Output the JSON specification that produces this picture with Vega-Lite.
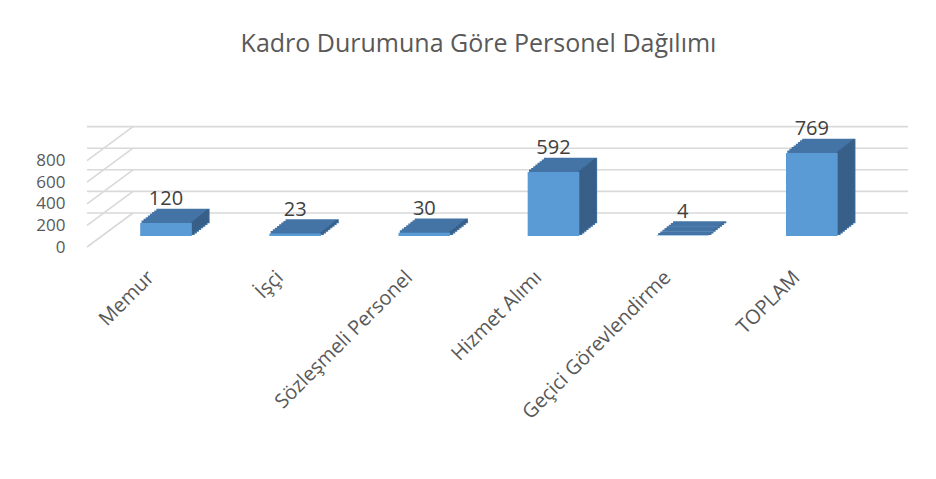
{
  "$schema": "https://vega.github.io/schema/vega-lite/v6.json",
  "width": 775,
  "height": 86.4,
  "autosize": {"type": "none"},
  "padding": {"left": 87, "top": 149.6, "right": 74, "bottom": 243},
  "background": "white",
  "title": {
    "text": "Kadro Durumuna Göre Personel Dağılımı",
    "font": "Open Sans",
    "fontSize": 25,
    "fontWeight": "normal",
    "color": "#595959",
    "anchor": "middle",
    "offset": 62,
    "dx": 4
  },
  "datasets": {
    "bars": [
      {"k": "Memur", "v": 120},
      {"k": "İşçi", "v": 23},
      {"k": "Sözleşmeli Personel", "v": 30},
      {"k": "Hizmet Alımı", "v": 592},
      {"k": "Geçici Görevlendirme", "v": 4},
      {"k": "TOPLAM", "v": 769}
    ],
    "grid": [{"g": 0}, {"g": 200}, {"g": 400}, {"g": 600}, {"g": 800}]
  },
  "config": {
    "view": {"stroke": null},
    "font": "Open Sans",
    "axisY": {
      "title": null,
      "domain": false,
      "ticks": false,
      "tickSize": 0,
      "grid": false,
      "values": [0, 200, 400, 600, 800],
      "labelPadding": 22,
      "labelOffset": 11,
      "labelFontSize": 17,
      "labelColor": "#595959",
      "labelFont": "Open Sans"
    }
  },
  "layer": [
    {
      "data": {"name": "grid"},
      "mark": {"type": "rule", "color": "#d9d9d9", "strokeWidth": 1.6, "xOffset": 46, "yOffset": -23},
      "encoding": {
        "y": {"field": "g", "type": "quantitative", "title": null}
      }
    },
    {
      "data": {"name": "grid"},
      "mark": {"type": "rule", "color": "#d9d9d9", "strokeWidth": 1.6, "yOffset": 11, "y2Offset": -23, "x2Offset": 46},
      "encoding": {
        "x": {"value": 0},
        "x2": {"value": 0},
        "y": {"field": "g", "type": "quantitative", "title": null},
        "y2": {"field": "g"}
      }
    },
    {
      "data": {"name": "bars"},
      "encoding": {
        "x": {
          "field": "k",
          "type": "nominal",
          "sort": null,
          "scale": {"paddingInner": 0.6, "paddingOuter": 0.3, "align": 0.686},
          "axis": {
            "title": null,
            "domain": false,
            "ticks": false,
            "tickSize": 0,
            "labelAngle": -45,
            "labelAlign": "right",
            "labelBaseline": "middle",
            "labelPadding": 38,
            "labelOffset": -15,
            "labelLimit": 0,
            "labelFontSize": 20,
            "labelColor": "#595959",
            "labelFont": "Open Sans"
          }
        },
        "y": {
          "field": "v",
          "type": "quantitative",
          "title": null,
          "scale": {"domain": [0, 800], "nice": false}
        }
      },
      "layer": [
        {"mark": {"type": "bar", "color": "#4474A6", "stroke": "#4474A6", "strokeWidth": 1.6, "xOffset": 17, "x2Offset": 17, "yOffset": -13.5, "y2Offset": -13.5}},
        {"mark": {"type": "bar", "color": "#4474A6", "stroke": "#4474A6", "strokeWidth": 1.6, "xOffset": 14.875, "x2Offset": 14.875, "yOffset": -11.81, "y2Offset": -11.81}},
        {"mark": {"type": "bar", "color": "#4474A6", "stroke": "#4474A6", "strokeWidth": 1.6, "xOffset": 12.75, "x2Offset": 12.75, "yOffset": -10.13, "y2Offset": -10.13}},
        {"mark": {"type": "bar", "color": "#4474A6", "stroke": "#4474A6", "strokeWidth": 1.6, "xOffset": 10.625, "x2Offset": 10.625, "yOffset": -8.44, "y2Offset": -8.44}},
        {"mark": {"type": "bar", "color": "#4474A6", "stroke": "#4474A6", "strokeWidth": 1.6, "xOffset": 8.5, "x2Offset": 8.5, "yOffset": -6.75, "y2Offset": -6.75}},
        {"mark": {"type": "bar", "color": "#4474A6", "stroke": "#4474A6", "strokeWidth": 1.6, "xOffset": 6.375, "x2Offset": 6.375, "yOffset": -5.06, "y2Offset": -5.06}},
        {"mark": {"type": "bar", "color": "#4474A6", "stroke": "#4474A6", "strokeWidth": 1.6, "xOffset": 4.25, "x2Offset": 4.25, "yOffset": -3.38, "y2Offset": -3.38}},
        {"mark": {"type": "bar", "color": "#4474A6", "stroke": "#4474A6", "strokeWidth": 1.6, "xOffset": 2.125, "x2Offset": 2.125, "yOffset": -1.69, "y2Offset": -1.69}},
        {"mark": {"type": "bar", "color": "#375F88", "width": 2.7, "xOffset": 41.5, "yOffset": -13.5, "y2Offset": -13.5}},
        {"mark": {"type": "bar", "color": "#375F88", "width": 2.7, "xOffset": 39.4, "yOffset": -11.81, "y2Offset": -11.81}},
        {"mark": {"type": "bar", "color": "#375F88", "width": 2.7, "xOffset": 37.25, "yOffset": -10.13, "y2Offset": -10.13}},
        {"mark": {"type": "bar", "color": "#375F88", "width": 2.7, "xOffset": 35.1, "yOffset": -8.44, "y2Offset": -8.44}},
        {"mark": {"type": "bar", "color": "#375F88", "width": 2.7, "xOffset": 33.0, "yOffset": -6.75, "y2Offset": -6.75}},
        {"mark": {"type": "bar", "color": "#375F88", "width": 2.7, "xOffset": 30.9, "yOffset": -5.06, "y2Offset": -5.06}},
        {"mark": {"type": "bar", "color": "#375F88", "width": 2.7, "xOffset": 28.75, "yOffset": -3.38, "y2Offset": -3.38}},
        {"mark": {"type": "bar", "color": "#375F88", "width": 2.7, "xOffset": 26.6, "yOffset": -1.69, "y2Offset": -1.69}},
        {"mark": {"type": "bar", "color": "#5B9BD5"}},
        {
          "mark": {"type": "text", "fontSize": 20, "color": "#404040", "baseline": "alphabetic", "yOffset": -18, "font": "Open Sans"},
          "encoding": {"text": {"field": "v", "type": "quantitative"}}
        }
      ]
    }
  ]
}
